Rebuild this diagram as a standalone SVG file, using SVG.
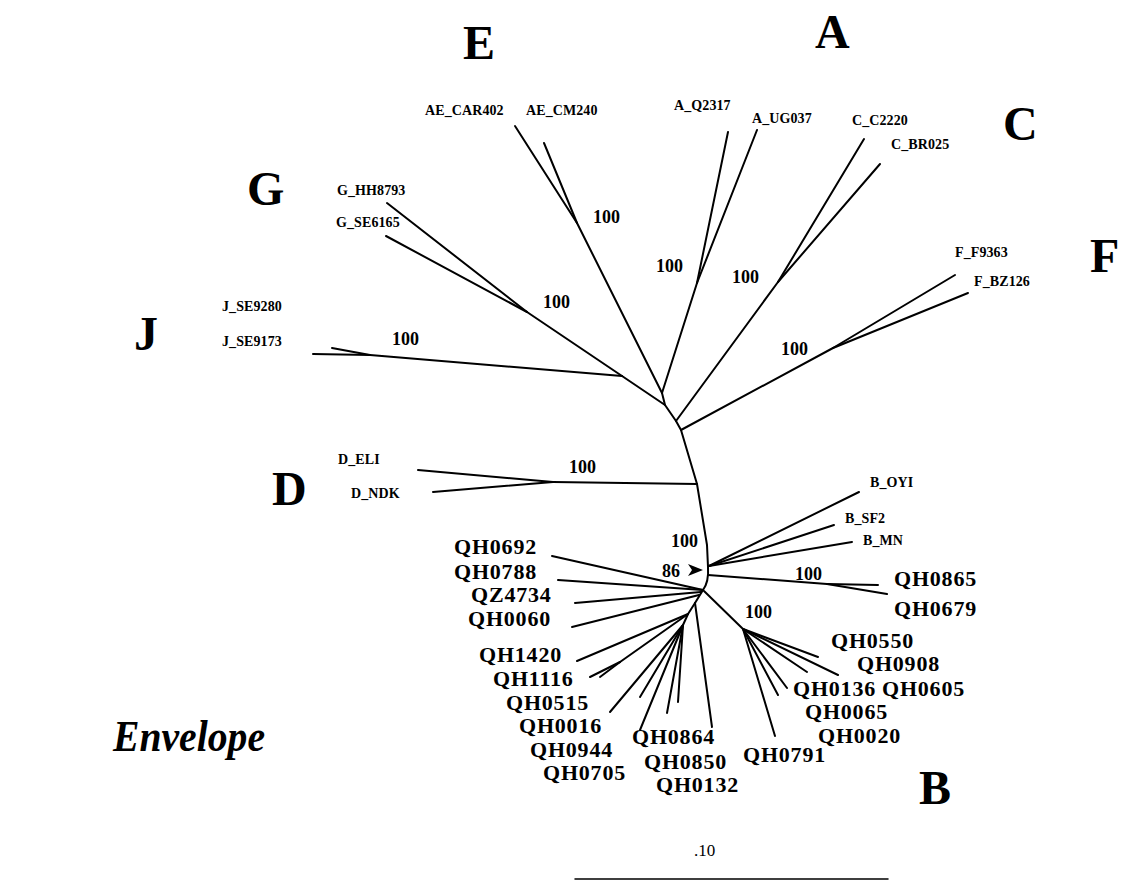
<svg xmlns="http://www.w3.org/2000/svg" width="1122" height="881" viewBox="0 0 1122 881">
<style>
.br{stroke:#000;stroke-width:2;fill:none;stroke-linecap:round;stroke-linejoin:round}
.big{font-family:"Liberation Serif",serif;font-weight:bold;font-size:48px;fill:#000}
.sm{font-family:"Liberation Serif",serif;font-weight:bold;font-size:14px;letter-spacing:0.1px;fill:#000}
.bs{font-family:"Liberation Serif",serif;font-weight:bold;font-size:18px;fill:#000}
.qh{font-family:"Liberation Serif",serif;font-weight:bold;font-size:22px;letter-spacing:0.8px;fill:#000}
.env{font-family:"Liberation Serif",serif;font-weight:bold;font-style:italic;font-size:45px;fill:#000}
.sc{font-family:"Liberation Serif",serif;font-size:17px;fill:#000}
</style>
<rect width="1122" height="881" fill="#fff"/>
<g id="connectors" class="br">
  <polyline points="662,393 665,405 676,421 681,430 697,484 707,545 708,567"/>
  <path d="M708,567 Q709,582 703,590"/>
  <line x1="515" y1="126" x2="577" y2="223"/>
  <line x1="544" y1="143" x2="577" y2="223"/>
  <line x1="577" y1="223" x2="662" y2="393"/>
  <line x1="728" y1="132" x2="697" y2="283"/>
  <line x1="757" y1="130" x2="697" y2="283"/>
  <line x1="697" y1="283" x2="662" y2="393"/>
  <line x1="387" y1="203" x2="527" y2="312"/>
  <line x1="386" y1="236" x2="527" y2="312"/>
  <line x1="527" y1="312" x2="622" y2="376"/>
  <line x1="313" y1="354" x2="370" y2="355"/>
  <line x1="332" y1="348" x2="370" y2="355"/>
  <line x1="370" y1="355" x2="622" y2="376"/>
  <line x1="622" y1="376" x2="665" y2="405"/>
  <line x1="864" y1="139" x2="778" y2="282"/>
  <line x1="880" y1="164" x2="778" y2="282"/>
  <line x1="778" y1="282" x2="676" y2="421"/>
  <line x1="955" y1="275" x2="833" y2="348"/>
  <line x1="968" y1="293" x2="833" y2="348"/>
  <line x1="833" y1="348" x2="681" y2="430"/>
  <line x1="418" y1="470" x2="553" y2="482"/>
  <line x1="433" y1="492" x2="553" y2="482"/>
  <line x1="553" y1="482" x2="697" y2="484"/>
  <line x1="709" y1="566" x2="859" y2="492"/>
  <line x1="709" y1="566" x2="834" y2="525"/>
  <line x1="709" y1="566" x2="852" y2="542"/>
  <line x1="708" y1="575" x2="827" y2="584"/>
  <line x1="827" y1="584" x2="878" y2="585"/>
  <line x1="827" y1="584" x2="887" y2="594"/>
  <line x1="703" y1="590" x2="552" y2="556"/>
  <line x1="703" y1="590" x2="558" y2="580"/>
  <line x1="701" y1="592" x2="575" y2="603"/>
  <line x1="699" y1="595" x2="572" y2="627"/>
  <line x1="703" y1="590" x2="695" y2="603"/>
  <line x1="695" y1="603" x2="712" y2="727"/>
  <line x1="695" y1="603" x2="688" y2="614"/>
  <line x1="688" y1="614" x2="577" y2="661"/>
  <line x1="688" y1="614" x2="620" y2="662"/>
  <line x1="620" y1="662" x2="590" y2="677"/>
  <line x1="620" y1="662" x2="600" y2="677"/>
  <line x1="688" y1="614" x2="683" y2="625"/>
  <line x1="683" y1="625" x2="610" y2="712"/>
  <line x1="683" y1="625" x2="640" y2="697"/>
  <line x1="683" y1="625" x2="640" y2="730"/>
  <line x1="683" y1="625" x2="667" y2="713"/>
  <line x1="683" y1="625" x2="678" y2="702"/>
  <line x1="704" y1="591" x2="743" y2="629"/>
  <line x1="743" y1="629" x2="818" y2="657"/>
  <line x1="743" y1="629" x2="807" y2="672"/>
  <line x1="743" y1="629" x2="838" y2="675"/>
  <line x1="743" y1="629" x2="787" y2="688"/>
  <line x1="743" y1="629" x2="778" y2="695"/>
  <line x1="743" y1="629" x2="775" y2="736"/>
  <line x1="575" y1="879" x2="888" y2="879" stroke-width="1.5"/>
</g>
<g id="arrow86"><polygon points="703,570 688,564 692,570 688,576" fill="#000"/></g>
<g id="clades">
  <text class="big" x="463" y="59">E</text>
  <text class="big" x="815" y="48">A</text>
  <text class="big" x="1003" y="140">C</text>
  <text class="big" x="247" y="205">G</text>
  <text class="big" x="1090" y="272">F</text>
  <text class="big" x="134" y="350">J</text>
  <text class="big" x="272" y="505">D</text>
  <text class="big" x="919" y="804">B</text>
</g>
<g id="ref-labels">
  <text class="sm" x="425" y="115">AE_CAR402</text>
  <text class="sm" x="526" y="115">AE_CM240</text>
  <text class="sm" x="674" y="110">A_Q2317</text>
  <text class="sm" x="752" y="123">A_UG037</text>
  <text class="sm" x="852" y="125">C_C2220</text>
  <text class="sm" x="891" y="149">C_BR025</text>
  <text class="sm" x="337" y="195">G_HH8793</text>
  <text class="sm" x="336" y="227">G_SE6165</text>
  <text class="sm" x="222" y="311">J_SE9280</text>
  <text class="sm" x="222" y="346">J_SE9173</text>
  <text class="sm" x="955" y="257">F_F9363</text>
  <text class="sm" x="974" y="286">F_BZ126</text>
  <text class="sm" x="338" y="464">D_ELI</text>
  <text class="sm" x="351" y="498">D_NDK</text>
  <text class="sm" x="870" y="487">B_OYI</text>
  <text class="sm" x="845" y="523">B_SF2</text>
  <text class="sm" x="863" y="545">B_MN</text>
</g>
<g id="bootstrap">
  <text class="bs" x="593" y="223">100</text>
  <text class="bs" x="656" y="272">100</text>
  <text class="bs" x="543" y="308">100</text>
  <text class="bs" x="732" y="283">100</text>
  <text class="bs" x="781" y="355">100</text>
  <text class="bs" x="392" y="345">100</text>
  <text class="bs" x="569" y="473">100</text>
  <text class="bs" x="671" y="547">100</text>
  <text class="bs" x="662" y="577">86</text>
  <text class="bs" x="795" y="580">100</text>
  <text class="bs" x="745" y="618">100</text>
</g>
<g id="qh-labels">
  <text class="qh" x="454" y="554">QH0692</text>
  <text class="qh" x="454" y="579">QH0788</text>
  <text class="qh" x="471" y="602">QZ4734</text>
  <text class="qh" x="468" y="626">QH0060</text>
  <text class="qh" x="479" y="662">QH1420</text>
  <text class="qh" x="493" y="686">QH1116</text>
  <text class="qh" x="506" y="710">QH0515</text>
  <text class="qh" x="519" y="733">QH0016</text>
  <text class="qh" x="530" y="757">QH0944</text>
  <text class="qh" x="543" y="780">QH0705</text>
  <text class="qh" x="632" y="744">QH0864</text>
  <text class="qh" x="644" y="769">QH0850</text>
  <text class="qh" x="656" y="792">QH0132</text>
  <text class="qh" x="894" y="586">QH0865</text>
  <text class="qh" x="894" y="616">QH0679</text>
  <text class="qh" x="831" y="648">QH0550</text>
  <text class="qh" x="857" y="671">QH0908</text>
  <text class="qh" x="793" y="696">QH0136</text>
  <text class="qh" x="882" y="696">QH0605</text>
  <text class="qh" x="805" y="719">QH0065</text>
  <text class="qh" x="818" y="743">QH0020</text>
  <text class="qh" x="743" y="762">QH0791</text>
</g>
<g id="title">
  <text class="env" x="113" y="751" textLength="152" lengthAdjust="spacingAndGlyphs">Envelope</text>
</g>
<g id="scale">
  <text class="sc" x="694" y="856">.10</text>
</g>
</svg>
